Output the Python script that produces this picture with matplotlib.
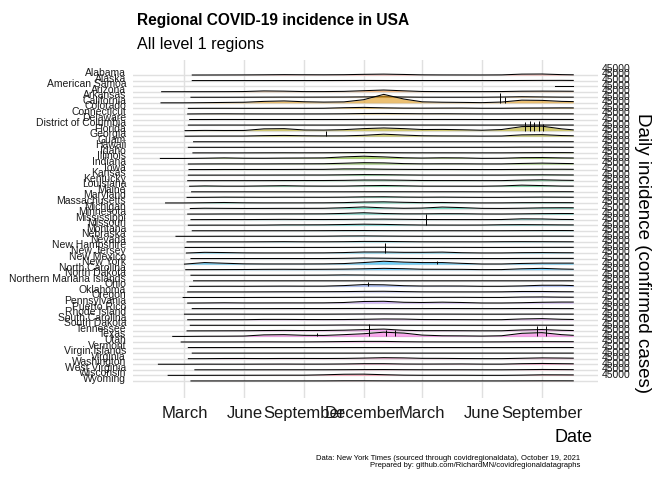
import numpy as np
import pandas as pd
import matplotlib
matplotlib.use("Agg")
import matplotlib.pyplot as plt
import matplotlib.dates as mdates
import matplotlib.transforms as mtransforms

plt.rcParams['font.family'] = ['Liberation Sans', 'DejaVu Sans']

regions = [
    "Alabama", "Alaska", "American Samoa", "Arizona", "Arkansas", "California",
    "Colorado", "Connecticut", "Delaware", "District of Columbia", "Florida",
    "Georgia", "Guam", "Hawaii", "Idaho", "Illinois", "Indiana", "Iowa", "Kansas",
    "Kentucky", "Louisiana", "Maine", "Maryland", "Massachusetts", "Michigan",
    "Minnesota", "Mississippi", "Missouri", "Montana", "Nebraska", "Nevada",
    "New Hampshire", "New Jersey", "New Mexico", "New York", "North Carolina",
    "North Dakota", "Northern Mariana Islands", "Ohio", "Oklahoma", "Oregon",
    "Pennsylvania", "Puerto Rico", "Rhode Island", "South Carolina",
    "South Dakota", "Tennessee", "Texas", "Utah", "Vermont", "Virgin Islands",
    "Virginia", "Washington", "West Virginia", "Wisconsin", "Wyoming",
]

# first reported date per region (where each ridge line begins)
start_dates = [
    "2020-03-13", "2020-03-13", "2021-09-21", "2020-01-26", "2020-03-11", "2020-01-25",
    "2020-03-07", "2020-03-06", "2020-03-09", "2020-03-07", "2020-03-02",
    "2020-03-02", "2020-03-15", "2020-03-07", "2020-03-14", "2020-01-24", "2020-03-07", "2020-03-08", "2020-03-07",
    "2020-03-06", "2020-03-09", "2020-03-12", "2020-03-05", "2020-02-01", "2020-03-10",
    "2020-03-06", "2020-03-11", "2020-03-07", "2020-03-13", "2020-02-17", "2020-03-05",
    "2020-03-02", "2020-03-04", "2020-03-11", "2020-03-01", "2020-03-03",
    "2020-03-11", "2020-03-15", "2020-03-09", "2020-03-06", "2020-02-28",
    "2020-03-06", "2020-03-13", "2020-03-01", "2020-03-06",
    "2020-03-10", "2020-03-05", "2020-02-12", "2020-02-25", "2020-03-07", "2020-03-13",
    "2020-03-07", "2020-01-21", "2020-03-17", "2020-02-05", "2020-03-11",
]

sample_dates = [
    "2020-03-01", "2020-04-01", "2020-05-01", "2020-06-01", "2020-07-01", "2020-08-01",
    "2020-09-01", "2020-10-01", "2020-11-01", "2020-12-01", "2021-01-01", "2021-02-01",
    "2021-03-01", "2021-04-01", "2021-05-01", "2021-06-01", "2021-07-01", "2021-08-01",
    "2021-09-01", "2021-10-01", "2021-10-19",
]

# daily confirmed cases (thousands) at each sample date
daily_cases_k = [
    [0, 0.1, 0.3, 0.5, 1.0, 1.7, 1.2, 1.0, 1.5, 3.0, 4.0, 2.5, 0.8, 0.4, 0.3, 0.2, 0.6, 4.0, 4.5, 1.8, 1.0],
    [0, 0.01, 0.01, 0.01, 0.03, 0.1, 0.08, 0.15, 0.4, 0.6, 0.3, 0.15, 0.15, 0.2, 0.15, 0.05, 0.15, 0.45, 0.8, 1.0, 0.7],
    [0, 0, 0, 0, 0, 0, 0, 0, 0, 0, 0, 0, 0, 0, 0, 0, 0, 0, 0, 0, 0],
    [0, 0.1, 0.3, 0.8, 3.5, 2.5, 0.5, 0.6, 1.5, 4.5, 7.5, 4.0, 1.0, 0.5, 0.6, 0.4, 0.7, 2.2, 2.6, 2.3, 2.0],
    [0, 0.05, 0.07, 0.25, 0.6, 0.8, 0.6, 0.8, 1.0, 1.7, 2.5, 1.2, 0.3, 0.2, 0.2, 0.2, 1.0, 2.5, 1.5, 0.6, 0.5],
    [0, 0.8, 1.7, 2.6, 6.5, 8.5, 4.8, 3.3, 4.2, 14, 38, 17, 4.5, 2.7, 1.9, 0.9, 3.5, 12, 11, 6.5, 5.5],
    [0, 0.4, 0.4, 0.25, 0.3, 0.5, 0.3, 0.6, 3.0, 4.5, 2.5, 1.2, 1.0, 1.3, 1.5, 0.5, 0.6, 1.5, 1.8, 2.3, 2.2],
    [0, 0.5, 0.7, 0.3, 0.1, 0.1, 0.1, 0.2, 0.7, 2.0, 2.3, 1.5, 0.8, 1.0, 0.5, 0.1, 0.1, 0.5, 0.6, 0.4, 0.4],
    [0, 0.05, 0.2, 0.1, 0.1, 0.1, 0.1, 0.1, 0.2, 0.6, 0.7, 0.5, 0.2, 0.3, 0.2, 0.05, 0.05, 0.25, 0.4, 0.3, 0.3],
    [0, 0.05, 0.15, 0.1, 0.05, 0.06, 0.06, 0.04, 0.1, 0.2, 0.25, 0.15, 0.12, 0.13, 0.07, 0.02, 0.05, 0.2, 0.2, 0.15, 0.1],
    [0, 1.0, 0.6, 0.8, 8.0, 9.0, 3.0, 2.5, 4.5, 9.0, 12, 9.0, 5.0, 5.5, 4.0, 1.8, 5.0, 18, 20, 8.0, 3.5],
    [0, 0.5, 0.7, 0.7, 2.5, 3.5, 2.0, 1.3, 1.5, 4.0, 9.0, 5.0, 2.0, 1.2, 1.0, 0.4, 0.8, 6.0, 7.0, 3.0, 2.0],
    [0, 0.005, 0.001, 0.005, 0.01, 0.02, 0.05, 0.08, 0.05, 0.03, 0.01, 0.01, 0.005, 0.005, 0.01, 0.01, 0.02, 0.08, 0.15, 0.1, 0.05],
    [0, 0.02, 0.003, 0.005, 0.02, 0.1, 0.2, 0.1, 0.1, 0.1, 0.1, 0.1, 0.05, 0.06, 0.08, 0.05, 0.1, 0.7, 0.7, 0.35, 0.2],
    [0, 0.1, 0.02, 0.03, 0.3, 0.5, 0.3, 0.5, 1.0, 1.5, 0.9, 0.4, 0.25, 0.3, 0.25, 0.08, 0.15, 0.7, 1.2, 1.3, 1.1],
    [0, 1.0, 2.5, 1.0, 0.8, 1.6, 2.0, 2.5, 7.0, 10, 7.0, 3.0, 1.7, 3.0, 2.5, 0.4, 0.8, 3.5, 4.0, 2.5, 2.0],
    [0, 0.4, 0.6, 0.4, 0.4, 0.8, 0.9, 1.2, 3.5, 6.0, 5.0, 1.8, 0.7, 1.0, 0.9, 0.3, 0.4, 2.5, 4.0, 2.5, 1.8],
    [0, 0.05, 0.4, 0.4, 0.5, 0.5, 0.9, 0.9, 3.0, 3.0, 1.5, 0.8, 0.4, 0.5, 0.3, 0.1, 0.2, 0.9, 1.4, 1.4, 1.1],
    [0, 0.05, 0.15, 0.2, 0.3, 0.5, 0.6, 0.6, 1.5, 2.5, 2.0, 1.0, 0.3, 0.3, 0.3, 0.2, 0.3, 1.0, 1.5, 0.9, 0.7],
    [0, 0.05, 0.2, 0.2, 0.3, 0.6, 0.7, 0.8, 1.5, 3.0, 3.0, 2.0, 0.8, 0.6, 0.6, 0.3, 0.4, 2.5, 4.0, 2.0, 1.5],
    [0, 1.5, 0.4, 0.4, 1.5, 2.5, 1.0, 0.6, 0.8, 2.5, 3.5, 2.0, 0.5, 0.4, 0.3, 0.2, 1.5, 5.0, 3.0, 0.8, 0.6],
    [0, 0.02, 0.02, 0.03, 0.02, 0.02, 0.02, 0.03, 0.1, 0.3, 0.4, 0.3, 0.15, 0.3, 0.3, 0.05, 0.05, 0.2, 0.45, 0.6, 0.5],
    [0, 0.3, 1.0, 0.7, 0.4, 0.7, 0.6, 0.5, 1.0, 2.3, 2.8, 1.4, 0.8, 1.2, 0.6, 0.15, 0.15, 0.8, 1.3, 0.9, 0.7],
    [0, 1.0, 2.0, 0.6, 0.25, 0.3, 0.3, 0.5, 1.5, 4.0, 5.0, 2.8, 1.5, 2.0, 0.8, 0.1, 0.3, 1.2, 1.5, 1.4, 1.3],
    [0, 1.2, 0.6, 0.2, 0.4, 0.7, 0.7, 1.0, 3.5, 7.0, 3.0, 1.0, 2.0, 6.5, 4.0, 0.6, 0.3, 1.3, 3.0, 3.5, 3.3],
    [0, 0.05, 0.5, 0.5, 0.4, 0.7, 0.8, 1.0, 3.0, 6.0, 2.5, 1.0, 1.0, 1.8, 1.5, 0.3, 0.2, 1.0, 2.0, 2.5, 2.3],
    [0, 0.1, 0.3, 0.3, 0.7, 1.2, 0.7, 0.6, 0.9, 1.8, 2.3, 1.3, 0.5, 0.3, 0.2, 0.1, 0.5, 3.5, 3.0, 0.8, 0.5],
    [0, 0.2, 0.3, 0.2, 0.5, 1.5, 1.5, 1.8, 3.0, 4.5, 3.5, 1.8, 0.8, 0.6, 0.5, 0.7, 2.0, 2.5, 2.0, 1.4, 1.2],
    [0, 0.02, 0.003, 0.01, 0.1, 0.15, 0.15, 0.4, 0.9, 1.0, 0.5, 0.25, 0.15, 0.15, 0.1, 0.05, 0.1, 0.5, 0.8, 1.0, 0.8],
    [0, 0.02, 0.3, 0.2, 0.15, 0.2, 0.3, 0.5, 1.5, 1.8, 1.1, 0.5, 0.2, 0.3, 0.2, 0.05, 0.1, 0.4, 0.7, 0.6, 0.5],
    [0, 0.1, 0.1, 0.1, 0.5, 1.0, 0.4, 0.4, 0.9, 2.0, 2.0, 1.1, 0.4, 0.3, 0.3, 0.2, 0.8, 1.1, 0.9, 0.6, 0.4],
    [0, 0.05, 0.1, 0.05, 0.03, 0.03, 0.02, 0.05, 0.15, 0.6, 0.8, 0.4, 0.3, 0.4, 0.25, 0.03, 0.03, 0.2, 0.4, 0.45, 0.5],
    [0, 3.0, 2.0, 0.6, 0.3, 0.3, 0.4, 0.6, 2.0, 4.5, 4.5, 3.0, 3.0, 4.0, 1.3, 0.2, 0.3, 1.5, 2.0, 1.3, 1.1],
    [0, 0.03, 0.15, 0.15, 0.2, 0.25, 0.1, 0.2, 1.0, 2.5, 1.5, 0.6, 0.25, 0.2, 0.2, 0.1, 0.1, 0.6, 0.8, 0.8, 0.8],
    [0, 7.0, 4.0, 1.2, 0.7, 0.7, 0.7, 1.0, 2.5, 7.0, 13, 9.0, 7.0, 7.0, 3.5, 0.5, 0.6, 3.0, 4.5, 4.5, 4.5],
    [0, 0.2, 0.5, 0.8, 1.5, 1.8, 1.4, 1.8, 2.5, 4.0, 6.0, 4.5, 2.0, 1.8, 1.5, 0.3, 0.5, 4.0, 6.0, 3.0, 2.0],
    [0, 0.01, 0.05, 0.03, 0.03, 0.1, 0.3, 0.5, 1.5, 0.9, 0.3, 0.15, 0.1, 0.1, 0.1, 0.03, 0.03, 0.2, 0.4, 0.5, 0.5],
    [0, 0, 0.001, 0.001, 0.002, 0.005, 0.005, 0.005, 0.005, 0.005, 0.002, 0.002, 0.002, 0.002, 0.002, 0.002, 0.002, 0.005, 0.01, 0.02, 0.01],
    [0, 0.3, 0.6, 0.4, 0.8, 1.2, 0.9, 1.0, 3.5, 8.0, 7.0, 3.0, 1.5, 1.7, 1.5, 0.3, 0.4, 2.0, 5.0, 5.0, 3.5],
    [0, 0.05, 0.1, 0.1, 0.4, 0.7, 0.8, 1.0, 1.5, 2.5, 3.0, 1.5, 0.4, 0.3, 0.2, 0.15, 0.5, 2.0, 2.0, 1.0, 0.8],
    [0, 0.05, 0.05, 0.05, 0.3, 0.3, 0.25, 0.3, 0.6, 1.2, 1.2, 0.6, 0.3, 0.6, 0.7, 0.2, 0.2, 2.0, 2.5, 1.5, 1.3],
    [0, 0.5, 1.2, 0.5, 0.6, 0.8, 0.7, 0.9, 2.5, 7.0, 8.0, 3.5, 2.5, 4.0, 2.5, 0.3, 0.3, 1.5, 3.5, 4.5, 4.5],
    [0, 0.03, 0.04, 0.05, 0.05, 0.3, 0.4, 0.3, 0.6, 0.8, 0.4, 0.2, 0.2, 0.5, 0.3, 0.05, 0.1, 0.6, 0.5, 0.1, 0.1],
    [0, 0.05, 0.3, 0.15, 0.05, 0.1, 0.1, 0.1, 0.5, 0.8, 1.0, 0.5, 0.3, 0.4, 0.2, 0.02, 0.05, 0.3, 0.4, 0.3, 0.3],
    [0, 0.1, 0.15, 0.3, 1.5, 1.5, 1.0, 0.8, 1.0, 2.0, 3.5, 3.0, 1.0, 0.7, 0.5, 0.15, 0.3, 3.5, 5.0, 2.0, 1.3],
    [0, 0.02, 0.08, 0.05, 0.05, 0.1, 0.3, 0.6, 1.3, 1.1, 0.5, 0.2, 0.15, 0.2, 0.1, 0.02, 0.02, 0.3, 0.5, 0.5, 0.4],
    [0, 0.1, 0.3, 0.5, 1.5, 2.0, 1.5, 1.7, 3.0, 5.5, 8.0, 2.5, 0.9, 1.0, 0.7, 0.2, 0.4, 4.0, 6.0, 2.5, 1.5],
    [0, 0.8, 1.0, 1.7, 7.0, 8.0, 5.0, 4.5, 8.0, 12, 19, 15, 6.0, 3.0, 2.5, 1.5, 3.0, 14, 17, 8.0, 5.0],
    [0, 0.1, 0.15, 0.3, 0.6, 0.4, 0.4, 1.0, 2.0, 2.7, 2.6, 1.2, 0.5, 0.4, 0.4, 0.3, 0.6, 1.2, 1.5, 1.4, 1.3],
    [0, 0.02, 0.005, 0.005, 0.005, 0.005, 0.005, 0.005, 0.03, 0.1, 0.1, 0.1, 0.13, 0.15, 0.05, 0.01, 0.02, 0.1, 0.15, 0.2, 0.2],
    [0, 0.005, 0.005, 0.005, 0.01, 0.02, 0.03, 0.01, 0.01, 0.02, 0.02, 0.01, 0.01, 0.01, 0.01, 0.01, 0.01, 0.05, 0.04, 0.02, 0.01],
    [0, 0.15, 0.8, 0.9, 0.5, 1.0, 1.0, 0.8, 1.2, 2.5, 4.5, 3.5, 1.5, 1.3, 0.6, 0.2, 0.2, 1.8, 3.5, 2.8, 2.2],
    [0.01, 0.4, 0.25, 0.3, 0.6, 0.8, 0.5, 0.6, 1.2, 2.5, 2.5, 1.0, 0.7, 1.0, 1.3, 0.5, 0.5, 2.5, 3.5, 2.5, 2.0],
    [0, 0.02, 0.03, 0.03, 0.08, 0.15, 0.15, 0.2, 0.5, 1.0, 1.2, 0.6, 0.25, 0.3, 0.3, 0.08, 0.06, 0.7, 1.5, 1.0, 0.7],
    [0, 0.15, 0.3, 0.4, 0.6, 0.8, 0.8, 2.5, 5.0, 5.5, 3.0, 1.0, 0.4, 0.5, 0.5, 0.1, 0.1, 1.0, 2.5, 2.3, 2.0],
    [0, 0.01, 0.01, 0.01, 0.03, 0.05, 0.04, 0.15, 0.6, 0.6, 0.3, 0.1, 0.05, 0.06, 0.07, 0.03, 0.05, 0.3, 0.5, 0.5, 0.4],
]

# single-day reporting spikes (thousands of cases)
spike_regions = ["California", "California", "Florida", "Florida", "Florida", "Florida",
                 "Florida", "Georgia", "Missouri", "New Jersey", "New York", "Ohio",
                 "Texas", "Texas", "Texas", "Texas", "Texas", "Texas"]
spike_dates = ["2021-06-29", "2021-07-06", "2021-08-06", "2021-08-13", "2021-08-20", "2021-08-27",
               "2021-09-03", "2020-10-05", "2021-03-07", "2021-01-03", "2021-03-24", "2020-12-08",
               "2020-09-21", "2020-12-10", "2021-01-05", "2021-01-19", "2021-08-24", "2021-09-07"]
spike_cases_k = [42, 25, 38, 45, 40, 44, 30, 22, 50, 45, 13, 20, 16, 55, 30, 28, 45, 47]

title = "Regional COVID-19 incidence in USA"
subtitle = "All level 1 regions"
caption = ("Data: New York Times (sourced through covidregionaldata), October 19, 2021\n"
           "Prepared by: github.com/RichardMN/covidregionaldatagraphs")


def hcl_hex(h, c=100.0, l=65.0):
    """ggplot-style hue colour (polar LUV -> sRGB)"""
    hr = np.radians(h)
    u, v = c * np.cos(hr), c * np.sin(hr)
    Y = ((l + 16) / 116) ** 3
    un, vn = 0.1978398, 0.4683363
    up = u / (13 * l) + un
    vp = v / (13 * l) + vn
    X = 9 * Y * up / (4 * vp)
    Z = -X / 3 - 5 * Y + 3 * Y / vp
    m = np.array([[3.240479, -1.537150, -0.498535],
                  [-0.969256, 1.875992, 0.041556],
                  [0.055648, -0.204043, 1.057311]])
    rgb = m @ np.array([X, Y, Z])
    rgb = np.where(rgb > 0.0031308, 1.055 * np.abs(rgb) ** (1 / 2.4) - 0.055, 12.92 * rgb)
    return tuple(np.clip(rgb, 0, 1))


n = len(regions)
base = -np.arange(n, dtype=float)
hues = np.linspace(15, 375, n + 1)[:n]
row_k = 25.0  # thousands of cases per row height
when = pd.to_datetime(sample_dates)

fig = plt.figure(figsize=(6.72, 4.8), dpi=100)
ax = fig.add_axes([133 / 672, 1 - 398 / 480, (598 - 133) / 672, (398 - 60) / 480])

for i, region in enumerate(regions):
    st = pd.Timestamp(start_dates[i])
    vals = np.array(daily_cases_k[i])
    keep = when > st
    d = [st] + list(when[keep])
    y = base[i] + np.concatenate([[0], vals[keep]]) / row_k
    z = 2 + i * 0.02
    ax.fill_between(d, base[i], y, color=hcl_hex(hues[i]), alpha=0.55, lw=0, zorder=z)
    ax.plot(d, y, color="black", lw=0.75, zorder=z + 0.01)

for r, dt, k in zip(spike_regions, spike_dates, spike_cases_k):
    i = regions.index(r)
    ax.vlines(pd.Timestamp(dt), base[i], base[i] + k / row_k, color="black", lw=0.7,
              zorder=2 + i * 0.02 + 0.01)

ax.set_xlim(pd.Timestamp("2019-12-13"), pd.Timestamp("2021-11-26"))
ax.set_ylim(-55 - 3.07, 2.7)
ax.xaxis.set_major_locator(mdates.MonthLocator(bymonth=(3, 6, 9, 12)))
ax.xaxis.set_major_formatter(mdates.DateFormatter("%B"))
ax.set_yticks(base)
ax.set_yticklabels(regions)
ax.tick_params(axis="y", length=0, pad=5, labelsize=7.5, labelcolor="#1a1a1a")
ax.tick_params(axis="x", length=0, pad=6, labelsize=12, labelcolor="#1a1a1a")
shift = mtransforms.ScaledTranslation(0, 3 / 100, fig.dpi_scale_trans)
for lab in ax.get_yticklabels():
    lab.set_transform(lab.get_transform() + shift)
ax.grid(True, color="#e0e0e0", lw=1.0, zorder=0)
ax.set_axisbelow(True)
for s in ax.spines.values():
    s.set_visible(False)

# right-hand scale labels, one per ridge
ytr = mtransforms.blended_transform_factory(ax.transAxes, ax.transData)
for b in base:
    ax.text(1.007, b + 1.1, "45000", transform=ytr, ha="left", va="center",
            fontsize=7.5, color="#1a1a1a", clip_on=False)

fig.text(137 / 672, 1 - 20 / 480, title, fontsize=11.2, fontweight="bold", va="center")
fig.text(137 / 672, 1 - 44 / 480, subtitle, fontsize=11.6, va="center")
fig.text(592 / 672, 1 - 437 / 480, "Date", fontsize=13, ha="right", va="center")
fig.text(642 / 672, 1 - 253 / 480, "Daily incidence (confirmed cases)", fontsize=13.5,
         rotation=270, ha="center", va="center")
fig.text(580 / 672, 1 - 462 / 480, caption, fontsize=5.5, ha="right", va="center",
         multialignment="right", linespacing=1.1)

fig.savefig("out.png", dpi=100)
